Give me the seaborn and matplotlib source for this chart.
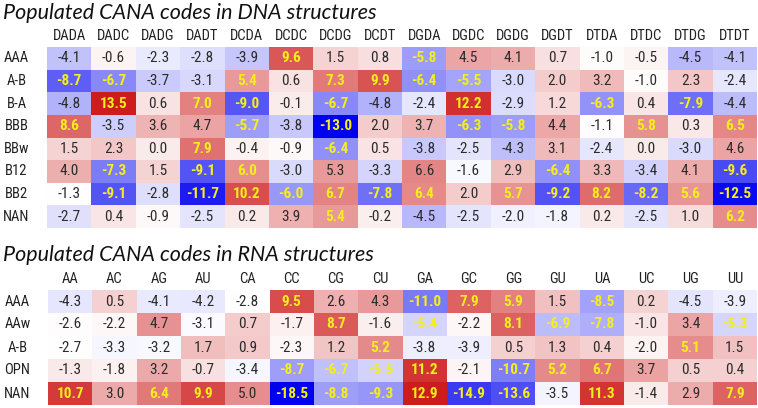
import numpy as np
import pandas as pd
import matplotlib
matplotlib.use("Agg")
import matplotlib.pyplot as plt
import seaborn as sns
from matplotlib.colors import LinearSegmentedColormap, TwoSlopeNorm

# ---------------- DATA ----------------
dna_cols = ["DADA", "DADC", "DADG", "DADT", "DCDA", "DCDC", "DCDG", "DCDT",
            "DGDA", "DGDC", "DGDG", "DGDT", "DTDA", "DTDC", "DTDG", "DTDT"]
dna_rows = ["AAA", "A-B", "B-A", "BBB", "BBw", "B12", "BB2", "NAN"]
dna_values = [
    [-4.1, -0.6, -2.3, -2.8, -3.9, 9.6, 1.5, 0.8, -5.8, 4.5, 4.1, 0.7, -1.0, -0.5, -4.5, -4.1],
    [-8.7, -6.7, -3.7, -3.1, 5.4, 0.6, 7.3, 9.9, -6.4, -5.5, -3.0, 2.0, 3.2, -1.0, 2.3, -2.4],
    [-4.8, 13.5, 0.6, 7.0, -9.0, -0.1, -6.7, -4.8, -2.4, 12.2, -2.9, 1.2, -6.3, 0.4, -7.9, -4.4],
    [8.6, -3.5, 3.6, 4.7, -5.7, -3.8, -13.0, 2.0, 3.7, -6.3, -5.8, 4.4, -1.1, 5.8, 0.3, 6.5],
    [1.5, 2.3, 0.0, 7.9, -0.4, -0.9, -6.4, 0.5, -3.8, -2.5, -4.3, 3.1, -2.4, 0.0, -3.0, 4.6],
    [4.0, -7.3, 1.5, -9.1, 6.0, -3.0, 5.3, -3.3, 6.6, -1.6, 2.9, -6.4, 3.3, -3.4, 4.1, -9.6],
    [-1.3, -9.1, -2.8, -11.7, 10.2, -6.0, 6.7, -7.8, 6.4, 2.0, 5.7, -9.2, 8.2, -8.2, 5.6, -12.5],
    [-2.7, 0.4, -0.9, -2.5, 0.2, 3.9, 5.4, -0.2, -4.5, -2.5, -2.0, -1.8, 0.2, -2.5, 1.0, 6.2],
]
# 1 = highlighted (yellow bold) cell
dna_signif = [
    [0, 0, 0, 0, 0, 1, 0, 0, 1, 0, 0, 0, 0, 0, 0, 0],
    [1, 1, 0, 0, 1, 0, 1, 1, 1, 1, 0, 0, 0, 0, 0, 0],
    [0, 1, 0, 1, 1, 0, 1, 0, 0, 1, 0, 0, 1, 0, 1, 0],
    [1, 0, 0, 0, 1, 0, 1, 0, 0, 1, 1, 0, 0, 1, 0, 1],
    [0, 0, 0, 1, 0, 0, 1, 0, 0, 0, 0, 0, 0, 0, 0, 0],
    [0, 1, 0, 1, 1, 0, 0, 0, 0, 0, 0, 1, 0, 0, 0, 1],
    [0, 1, 0, 1, 1, 1, 1, 1, 1, 0, 1, 1, 1, 1, 1, 1],
    [0, 0, 0, 0, 0, 0, 1, 0, 0, 0, 0, 0, 0, 0, 0, 1],
]

rna_cols = ["AA", "AC", "AG", "AU", "CA", "CC", "CG", "CU",
            "GA", "GC", "GG", "GU", "UA", "UC", "UG", "UU"]
rna_rows = ["AAA", "AAw", "A-B", "OPN", "NAN"]
rna_values = [
    [-4.3, 0.5, -4.1, -4.2, -2.8, 9.5, 2.6, 4.3, -11.0, 7.9, 5.9, 1.5, -8.5, 0.2, -4.5, -3.9],
    [-2.6, -2.2, 4.7, -3.1, 0.7, -1.7, 8.7, -1.6, -5.4, -2.2, 8.1, -6.9, -7.8, -1.0, 3.4, -5.3],
    [-2.7, -3.3, -3.2, 1.7, 0.9, -2.3, 1.2, 5.2, -3.8, -3.9, 0.5, 1.3, 0.4, -2.0, 5.1, 1.5],
    [-1.3, -1.8, 3.2, -0.7, -3.4, -8.7, -6.7, -5.5, 11.2, -2.1, -10.7, 5.2, 6.7, 3.7, 0.5, 0.4],
    [10.7, 3.0, 6.4, 9.9, 5.0, -18.5, -8.8, -9.3, 12.9, -14.9, -13.6, -3.5, 11.3, -1.4, 2.9, 7.9],
]
rna_signif = [
    [0, 0, 0, 0, 0, 1, 0, 0, 1, 1, 1, 0, 1, 0, 0, 0],
    [0, 0, 0, 0, 0, 0, 1, 0, 1, 0, 1, 1, 1, 0, 0, 1],
    [0, 0, 0, 0, 0, 0, 0, 1, 0, 0, 0, 0, 0, 0, 1, 0],
    [0, 0, 0, 0, 0, 1, 1, 1, 1, 0, 1, 1, 1, 0, 0, 0],
    [1, 0, 1, 1, 0, 1, 1, 1, 1, 1, 1, 0, 1, 0, 0, 1],
]

dna_title = "Populated CANA codes in DNA structures"
rna_title = "Populated CANA codes in RNA structures"

# ---------------- STYLE ----------------
sns.set_theme(style="white")
plt.rcParams["font.family"] = ["Roboto Condensed", "DejaVu Sans"]

cmap = LinearSegmentedColormap.from_list("bwr_custom", ["#0000f0", "#ffffff", "#cd1c1c"])
W, H = 758, 408
fig = plt.figure(figsize=(W / 100, H / 100), dpi=100)


def draw(ax, values, signif, rows, cols, vcenter):
    df = pd.DataFrame(values, index=rows, columns=cols)
    arr = df.to_numpy()
    norm = TwoSlopeNorm(vmin=arr.min(), vcenter=vcenter, vmax=arr.max())
    sns.heatmap(df, ax=ax, cmap=cmap, norm=norm, cbar=False, annot=True,
                fmt=".1f", annot_kws=dict(fontsize=11))
    sig = np.array(signif, dtype=bool).ravel()
    for t, s in zip(ax.texts, sig):
        if s:
            t.set_color("#f5ee1a")
            t.set_fontweight("bold")
        else:
            t.set_color("#2b2b2b")
            t.set_fontweight("normal")
    ax.xaxis.tick_top()
    ax.set_xticklabels(cols, rotation=0, fontsize=10.5, color="#222222")
    ax.set_yticklabels(rows, rotation=0, fontsize=10.5, color="#222222", ha="center")
    ax.tick_params(axis="x", length=0, pad=3)
    ax.tick_params(axis="y", length=0, pad=22)
    ax.set_xlabel("")
    ax.set_ylabel("")


ax1 = fig.add_axes([47 / W, 1 - 228 / H, 710 / W, 181 / H])
draw(ax1, dna_values, dna_signif, dna_rows, dna_cols, vcenter=-1.3)
ax2 = fig.add_axes([48 / W, 1 - 405 / H, 709 / W, 115 / H])
draw(ax2, rna_values, rna_signif, rna_rows, rna_cols, vcenter=-2.8)

fig.text(3 / W, 1 - 13 / H, dna_title, ha="left", va="center", fontsize=15.5,
         style="italic", family=["Lato", "DejaVu Sans"], color="#111111")
fig.text(3 / W, 1 - 255 / H, rna_title, ha="left", va="center", fontsize=15.5,
         style="italic", family=["Lato", "DejaVu Sans"], color="#111111")

fig.savefig("out.png", dpi=100)
